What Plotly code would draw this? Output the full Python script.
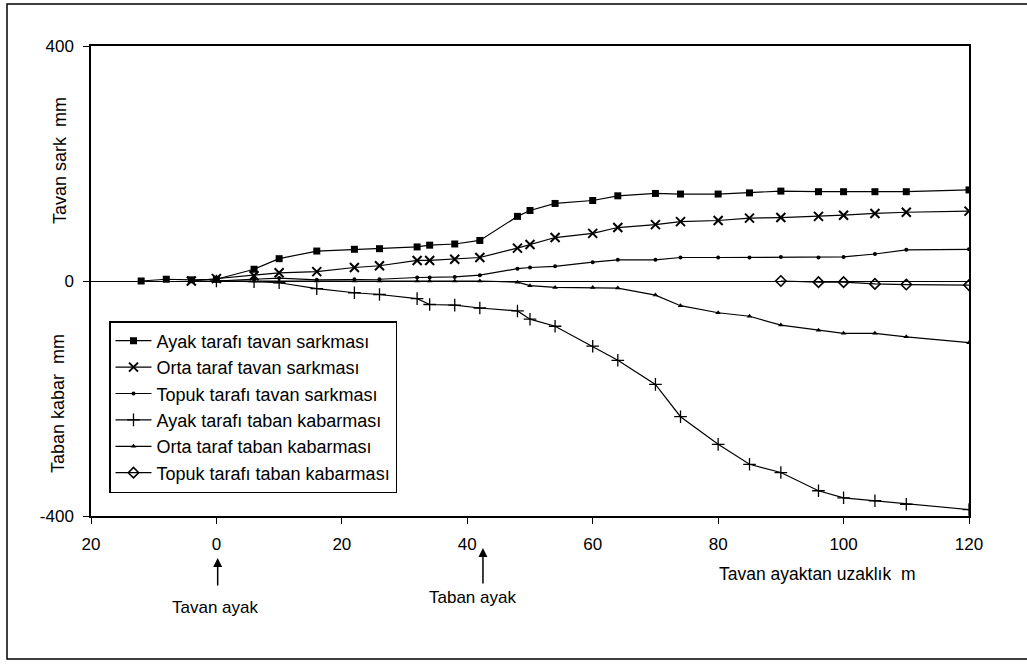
import plotly.graph_objects as go

# ---- data ----
x_ayak_tavan = [-12, -8, -4, 0, 6, 10, 16, 22, 26, 32, 34, 38, 42, 48, 50, 54, 60, 64, 70, 74, 80, 85, 90, 96, 100, 105, 110, 120]
y_ayak_tavan = [0, 3, 2, 3, 20, 38, 51, 54, 55, 58, 61, 63, 69, 110, 120, 132, 137, 145, 149, 148, 148, 150, 153, 152, 152, 152, 152, 155]

x_orta_tavan = [-4, 0, 6, 10, 16, 22, 26, 32, 34, 38, 42, 48, 50, 54, 60, 64, 70, 74, 80, 85, 90, 96, 100, 105, 110, 120]
y_orta_tavan = [0, 4, 9, 14, 16, 23, 26, 35, 35, 37, 40, 56, 62, 74, 81, 91, 96, 101, 103, 107, 108, 110, 112, 115, 117, 119]

x_topuk_tavan = [0, 6, 10, 16, 22, 26, 32, 34, 38, 42, 48, 50, 54, 60, 64, 70, 74, 80, 85, 90, 96, 100, 105, 110, 120]
y_topuk_tavan = [0, 3, 5, 2, 3, 3, 6, 6, 7, 10, 21, 23, 25, 32, 36, 36, 40, 40, 40, 41, 40, 41, 46, 53, 54]

x_ayak_taban = [0, 6, 10, 16, 22, 26, 32, 34, 38, 42, 48, 50, 54, 60, 64, 70, 74, 80, 85, 90, 96, 100, 105, 110, 120]
y_ayak_taban = [0, -1, -3, -13, -20, -23, -30, -40, -41, -46, -51, -65, -77, -111, -135, -176, -231, -278, -312, -326, -357, -369, -374, -380, -389]

x_orta_taban = [-4, 0, 6, 10, 16, 22, 26, 32, 34, 38, 42, 48, 50, 54, 60, 64, 70, 74, 80, 85, 90, 96, 100, 105, 110, 120]
y_orta_taban = [0, 0, 0, -1, 0, 0, 0, 0, 0, 0, 0, -2, -8, -11, -11, -12, -24, -42, -54, -60, -75, -84, -89, -89, -95, -105]

x_topuk_taban = [90, 96, 100, 105, 110, 120]
y_topuk_taban = [0, -2, -2, -5, -6, -7]

series_names = [
    "Ayak tarafı tavan sarkması",
    "Orta taraf tavan sarkması",
    "Topuk tarafı tavan sarkması",
    "Ayak tarafı taban kabarması",
    "Orta taraf taban kabarması",
    "Topuk tarafı taban kabarması",
]

x_tickvals = [-20, 0, 20, 40, 60, 80, 100, 120]
x_ticktext = ["20", "0", "20", "40", "60", "80", "100", "120"]
y_tickvals = [400, 0, -400]
y_ticktext = ["400", "0", "-400"]

FONT = "Arial, Liberation Sans, sans-serif"
FS = 17

markers = [
    dict(symbol="square", size=7, color="black"),
    dict(symbol="x-thin", size=9, line=dict(width=2, color="black"), color="black"),
    dict(symbol="circle", size=4, color="black"),
    dict(symbol="cross-thin", size=9, line=dict(width=1.3, color="black"), color="black"),
    dict(symbol="triangle-up", size=5, color="black"),
    dict(symbol="diamond-open", size=8, line=dict(width=1.6, color="black"), color="black"),
]

xs = [x_ayak_tavan, x_orta_tavan, x_topuk_tavan, x_ayak_taban, x_orta_taban, x_topuk_taban]
ys = [y_ayak_tavan, y_orta_tavan, y_topuk_tavan, y_ayak_taban, y_orta_taban, y_topuk_taban]

fig = go.Figure()
for i, (xv, yv, nm, mk) in enumerate(zip(xs, ys, series_names, markers)):
    fig.add_trace(go.Scatter(
        x=xv, y=yv, name=nm, mode="lines+markers",
        line=dict(color="black", width=1.2),
        marker=mk, legendgroup=f"g{i}",
    ))

# plot area in page pixels: x 91..969, y 46..516
PL, PR, PT, PB = 91, 969, 46, 516
PW, PH = PR - PL, PB - PT


def px(xp):
    return (xp - PL) / PW


def py(yp):
    return (PB - yp) / PH


fig.update_layout(
    width=1027, height=664,
    margin=dict(l=PL, r=1027 - PR, t=PT, b=664 - PB),
    paper_bgcolor="white", plot_bgcolor="white",
    font=dict(family=FONT, size=FS, color="black"),
    showlegend=True,
    legend=dict(
        x=px(109), y=py(321), xanchor="left", yanchor="top",
        bgcolor="white", bordercolor="black", borderwidth=1.5,
        font=dict(family=FONT, size=18, color="black"),
        tracegroupgap=0, traceorder="grouped",
        itemwidth=36,
    ),
    xaxis=dict(
        range=[-20, 120], tickvals=x_tickvals, ticktext=x_ticktext,
        showgrid=False, zeroline=False,
        showline=True, linecolor="black", linewidth=1.5, mirror=True,
        ticks="outside", ticklen=6, tickcolor="black", tickwidth=1.2,
        ticklabelstandoff=6,
        tickfont=dict(family=FONT, size=FS),
    ),
    yaxis=dict(
        range=[-400, 400], tickvals=y_tickvals, ticktext=y_ticktext,
        showgrid=False, zeroline=True, zerolinecolor="black", zerolinewidth=1,
        showline=True, linecolor="black", linewidth=1.5, mirror=True,
        ticks="outside", ticklen=6, tickcolor="black", tickwidth=1.2,
        ticklabelstandoff=6,
        tickfont=dict(family=FONT, size=FS),
    ),
)

# outer frame around the whole figure
fig.add_shape(type="rect", xref="paper", yref="paper",
              x0=px(7), x1=px(1035), y0=py(659), y1=py(4),
              line=dict(color="black", width=1.5), layer="below")

# y-axis titles (two parts)
fig.add_annotation(text="Tavan sark  mm", xref="paper", yref="paper",
                   x=px(60), y=py(161), textangle=-90, xanchor="center", yanchor="middle",
                   showarrow=False, font=dict(family=FONT, size=18))
fig.add_annotation(text="Taban kabar  mm", xref="paper", yref="paper",
                   x=px(58), y=py(404), textangle=-90, xanchor="center", yanchor="middle",
                   showarrow=False, font=dict(family=FONT, size=18))

# x-axis title
fig.add_annotation(text="Tavan ayaktan uzaklık  m", xref="paper", yref="paper",
                   x=px(817), y=py(574), xanchor="center", yanchor="middle",
                   showarrow=False, font=dict(family=FONT, size=FS + 0.5))

# arrows with labels
fig.add_annotation(text="", xref="x", yref="paper", x=0.2, y=py(558),
                   ax=0, ay=29, showarrow=True, arrowhead=2, arrowsize=1.2,
                   arrowwidth=1.5, arrowcolor="black")
fig.add_annotation(text="Tavan ayak", xref="paper", yref="paper",
                   x=px(215), y=py(607), xanchor="center", yanchor="middle",
                   showarrow=False, font=dict(family=FONT, size=FS))
fig.add_annotation(text="", xref="x", yref="paper", x=42.5, y=py(548),
                   ax=0, ay=37, showarrow=True, arrowhead=2, arrowsize=1.2,
                   arrowwidth=1.5, arrowcolor="black")
fig.add_annotation(text="Taban ayak", xref="paper", yref="paper",
                   x=px(472), y=py(597), xanchor="center", yanchor="middle",
                   showarrow=False, font=dict(family=FONT, size=FS))

fig.write_html("out.html", config={"displayModeBar": False},
               post_script="document.body.style.margin='0';")
